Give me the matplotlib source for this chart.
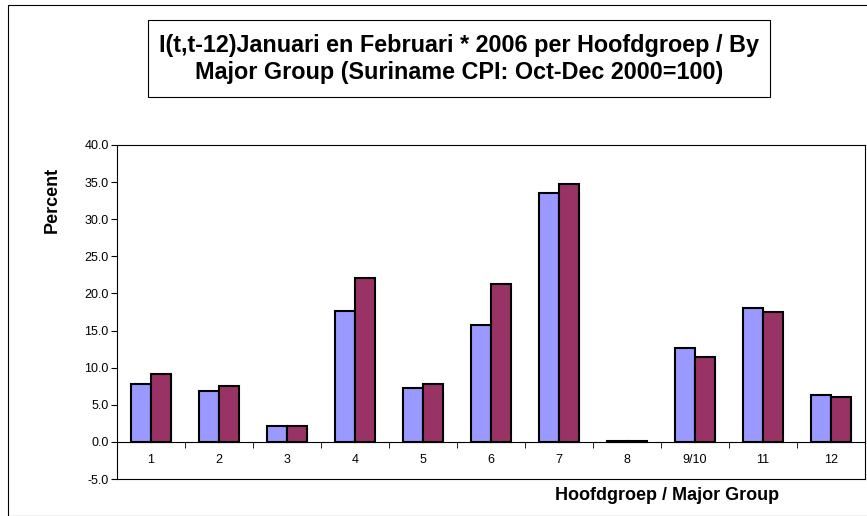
import numpy as np
import matplotlib
matplotlib.use('Agg')
import matplotlib.pyplot as plt
from matplotlib.patches import Rectangle

groups = ['1', '2', '3', '4', '5', '6', '7', '8', '9/10', '11', '12']
januari = [7.8, 6.9, 2.1, 17.6, 7.3, 15.8, 33.6, 0.1, 12.7, 18.0, 6.3]
februari = [9.2, 7.5, 2.2, 22.1, 7.8, 21.3, 34.7, 0.1, 11.4, 17.5, 6.0]

plt.rcParams['font.family'] = ['Liberation Sans', 'DejaVu Sans']

W, H = 867, 516
fig = plt.figure(figsize=(W / 100, H / 100), dpi=100)

# outer chart frame
fig.patches.append(Rectangle((8 / W, 0), 1.2, 1 - 5 / H, transform=fig.transFigure,
                             fill=False, edgecolor='black', linewidth=0.8))

ax = fig.add_axes([117 / W, 1 - 479 / H, (865 - 117) / W, (479 - 145) / H])

x = np.arange(len(groups))
bw = 0.29
ax.bar(x - bw / 2, januari, bw, color='#9999FF', edgecolor='black', linewidth=1.5)
ax.bar(x + bw / 2, februari, bw, color='#993366', edgecolor='black', linewidth=1.5)

ax.set_xlim(-0.5, len(groups) - 0.5)
ax.set_ylim(-5, 40)
ax.set_yticks(np.arange(-5, 41, 5))
ax.set_yticklabels(['%.1f' % v for v in np.arange(-5, 41, 5)], fontsize=9)

# category axis sits on the zero line
ax.spines['bottom'].set_position(('data', 0))
ax.set_xticks(x)
ax.set_xticklabels(groups, fontsize=9)
ax.set_xticks(np.arange(0.5, len(groups) - 0.5, 1), minor=True)
ax.tick_params(axis='x', which='major', length=0, pad=9)
ax.tick_params(axis='x', which='minor', length=4, direction='out')
ax.tick_params(axis='y', length=4, direction='out', pad=2)
ax.plot([0, 1], [0, 0], transform=ax.transAxes, color='black', linewidth=0.8, clip_on=False)
for s in ax.spines.values():
    s.set_linewidth(0.8)

ax.set_ylabel('Percent', fontsize=13, fontweight='bold')
ax.yaxis.set_label_coords(-0.075, 0.835)
fig.text(667 / W, 1 - 495 / H, 'Hoofdgroep / Major Group', ha='center', va='center',
         fontsize=13, fontweight='bold')

# title in its own box
fig.patches.append(Rectangle((148 / W, 1 - 97 / H), (770 - 148) / W, (97 - 20) / H,
                             transform=fig.transFigure, fill=False, edgecolor='black', linewidth=0.8))
fig.text(459 / W, 1 - 59 / H,
         'I(t,t-12)Januari en Februari * 2006 per Hoofdgroep / By\nMajor Group (Suriname CPI: Oct-Dec 2000=100)',
         ha='center', va='center', fontsize=16.8, fontweight='bold', linespacing=1.2)

fig.savefig('out.png', dpi=100)
